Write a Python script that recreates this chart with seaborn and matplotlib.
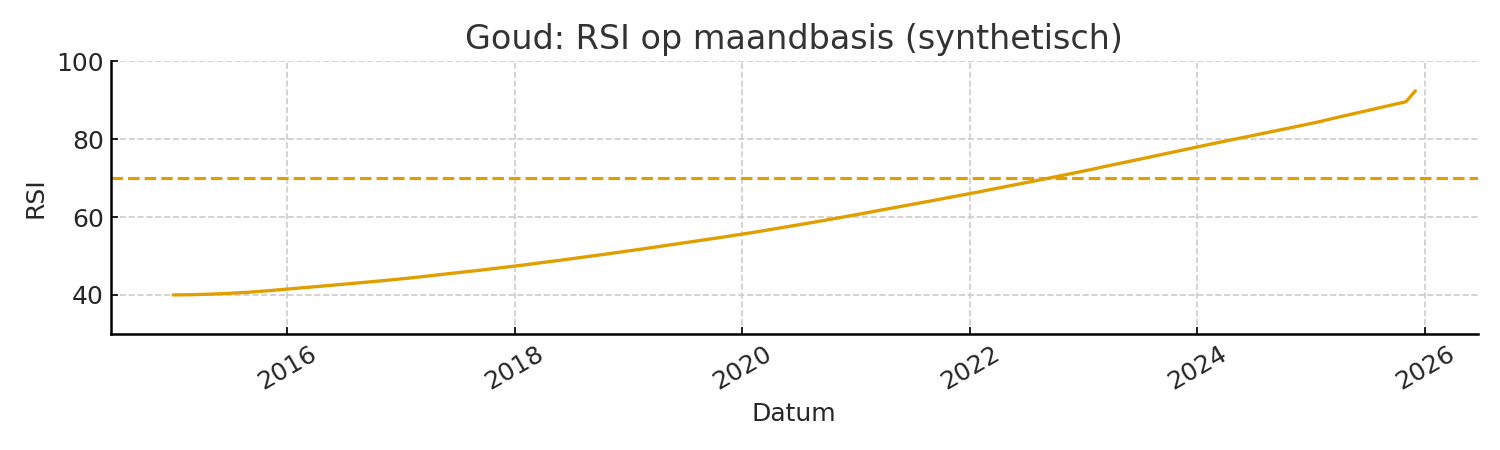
import numpy as np
import pandas as pd
import seaborn as sns
import matplotlib

matplotlib.use("Agg")
from matplotlib import pyplot as plt

# monthly RSI values, Jan 2015 .. Dec 2025
rsi_2015 = [40.0, 40.02, 40.06, 40.12, 40.2, 40.3, 40.42, 40.55, 40.7, 40.88, 41.07, 41.28]
rsi_2016 = [41.5, 41.7, 41.9, 42.11, 42.32, 42.53, 42.75, 42.97, 43.19, 43.41, 43.64, 43.87]
rsi_2017 = [44.1, 44.36, 44.62, 44.89, 45.16, 45.43, 45.7, 45.97, 46.25, 46.53, 46.82, 47.11]
rsi_2018 = [47.4, 47.7, 48.01, 48.32, 48.63, 48.95, 49.27, 49.6, 49.93, 50.26, 50.6, 50.95]
rsi_2019 = [51.3, 51.64, 51.98, 52.33, 52.68, 53.03, 53.39, 53.75, 54.11, 54.48, 54.85, 55.22]
rsi_2020 = [55.6, 55.99, 56.39, 56.79, 57.19, 57.6, 58.01, 58.43, 58.86, 59.29, 59.72, 60.16]
rsi_2021 = [60.6, 61.04, 61.48, 61.92, 62.37, 62.82, 63.27, 63.72, 64.18, 64.64, 65.1, 65.55]
rsi_2022 = [66.0, 66.47, 66.94, 67.41, 67.89, 68.37, 68.85, 69.33, 69.81, 70.3, 70.8, 71.3]
rsi_2023 = [71.8, 72.31, 72.82, 73.33, 73.84, 74.35, 74.86, 75.37, 75.89, 76.42, 76.95, 77.48]
rsi_2024 = [78.0, 78.5, 79.0, 79.5, 80.0, 80.5, 81.0, 81.5, 82.0, 82.5, 83.0, 83.5]
rsi_2025 = [84.0, 84.56, 85.12, 85.68, 86.24, 86.8, 87.36, 87.92, 88.48, 89.04, 89.6, 92.4]

overbought = 70
yticks = [40, 60, 80, 100]

rsi = (rsi_2015 + rsi_2016 + rsi_2017 + rsi_2018 + rsi_2019 + rsi_2020
       + rsi_2021 + rsi_2022 + rsi_2023 + rsi_2024 + rsi_2025)
dates = pd.date_range("2015-01-01", periods=len(rsi), freq="MS")
df = pd.DataFrame({"Datum": dates, "RSI": rsi})

sns.set_style("ticks")
plt.rcParams["font.family"] = ["DejaVu Sans"]

color = "#E09F00"
fig, ax = plt.subplots(figsize=(10, 3), dpi=150)
sns.lineplot(data=df, x="Datum", y="RSI", ax=ax, color=color, linewidth=1.6)
ax.axhline(overbought, color=color, linestyle="--", linewidth=1.5)

ax.set_ylim(30, 100)
ax.set_yticks(yticks)
ax.grid(True, linestyle="--", color="#cccccc", linewidth=0.8)
sns.despine(ax=ax)
for side in ("left", "bottom"):
    ax.spines[side].set_color("black")
    ax.spines[side].set_linewidth(1.2)
ax.tick_params(axis="x", rotation=30, labelsize=12, color="black", direction="in")
ax.tick_params(axis="y", labelsize=12, color="black", direction="in")
ax.set_xlabel("Datum", fontsize=12)
ax.set_ylabel("RSI", fontsize=12)
ax.set_title("Goud: RSI op maandbasis (synthetisch)", fontsize=16, color="#333333")

fig.subplots_adjust(left=0.074, right=0.985, top=0.864, bottom=0.258)
fig.savefig("out.png", dpi=150)
plt.close(fig)
